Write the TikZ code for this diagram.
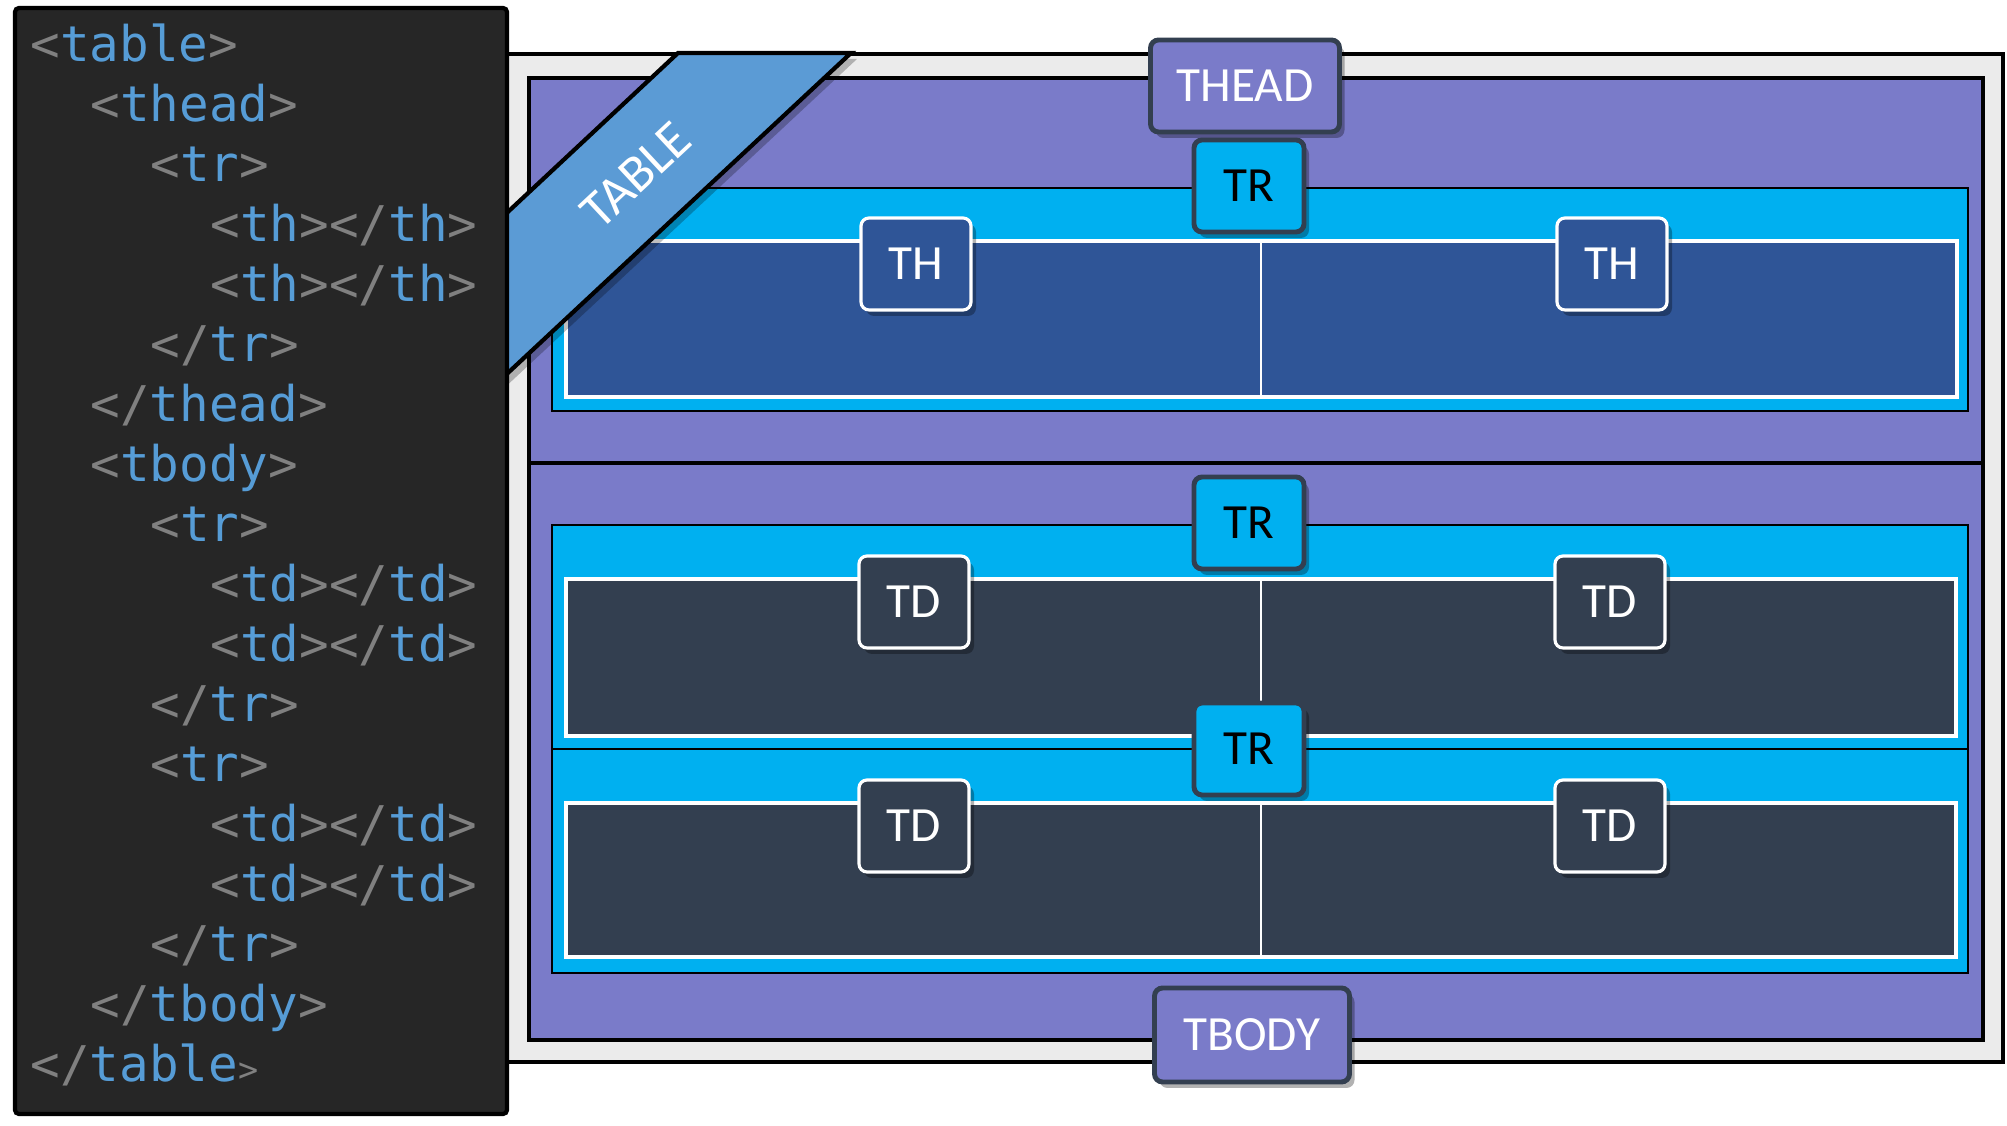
\documentclass[tikz,border=0pt]{standalone}
\usepackage{fontspec}
\setmainfont{Carlito}
\newfontfamily\codefont{DejaVu Sans Mono}
\usetikzlibrary{shadows,positioning}

\definecolor{codebg}{HTML}{262626}
\definecolor{tagname}{HTML}{569CD6}
\definecolor{tagbracket}{HTML}{808080}
\definecolor{outerbg}{HTML}{EBEBEB}
\definecolor{sectbg}{HTML}{7A7BC9}
\definecolor{rowbg}{HTML}{00B0F0}
\definecolor{headcell}{HTML}{2F5597}
\definecolor{bodycell}{HTML}{333F50}
\definecolor{ribbon}{HTML}{5B9BD5}
\definecolor{slate}{HTML}{333F50}

\newcommand{\otag}[1]{\textcolor{tagbracket}{<}\textcolor{tagname}{#1}\textcolor{tagbracket}{>}}
\newcommand{\ctag}[1]{\textcolor{tagbracket}{</}\textcolor{tagname}{#1}\textcolor{tagbracket}{>}}

\begin{document}
\begin{tikzpicture}[x=0.1mm,y=-0.1mm,node distance=6.96cm,
  frame/.style={draw=black,line width=1.2pt},
  row band/.style={draw=black,line width=0.8pt,fill=rowbg},
  cell box/.style={draw=white,line width=0.9pt},
  code line/.style={anchor=base west,inner sep=0pt,font=\codefont\fontsize{14}{17}\selectfont},
  tag node/.style={line width=1.4pt,rounded corners=0.8mm,minimum width=11mm,minimum height=9.2mm,
    inner sep=2pt,font=\fontsize{14}{16}\selectfont,
    drop shadow={shadow xshift=0.5mm,shadow yshift=-0.6mm,opacity=0.3,fill=black}},
  section tag/.style={tag node,draw=slate,fill=sectbg,text=white},
  row tag/.style={tag node,draw=slate,fill=rowbg,text=black},
  head tag/.style={tag node,draw=white,line width=0.9pt,fill=headcell,text=white},
  body tag/.style={tag node,draw=white,line width=0.9pt,fill=bodycell,text=white}]

 \useasboundingbox (0,0) rectangle (2007,1126);

 % table, thead, tbody
 \draw[frame,fill=outerbg] (507,54) rectangle (2003,1062);
 \draw[frame,fill=sectbg] (529,78) rectangle (1983,463);
 \draw[frame,fill=sectbg] (529,463) rectangle (1983,1040);

 % rows
 \draw[row band] (552,188) rectangle (1968,411);
 \draw[row band] (552,525) rectangle (1968,749);
 \draw[row band] (552,749) rectangle (1968,973);

 % cells
 \draw[cell box,fill=headcell] (566,241) rectangle (1957,397);
 \draw[cell box,fill=bodycell] (566,579) rectangle (1956,736);
 \draw[cell box,fill=bodycell] (566,803) rectangle (1956,957);
 \draw[white,line width=0.7pt] (1261,241) -- (1261,397);
 \draw[white,line width=0.7pt] (1261,579) -- (1261,736);
 \draw[white,line width=0.7pt] (1261,803) -- (1261,957);

 % ribbon
 \fill[black,opacity=0.25] (684,59) -- (857,59) -- (486,405) -- (486,244) -- cycle;
 \draw[frame,fill=ribbon,line join=miter] (678,53) -- (851,53) -- (480,399) -- (480,238) -- cycle;
 \node[rotate=43,text=white,font=\fontsize{15}{17}\selectfont] (ttl) at (636,175) {TABLE};

 % code panel
 \draw[frame,fill=codebg,rounded corners=0.4mm] (15,8) rectangle (507,1114);
 \node[code line] (c1) at (30,62) {\otag{table}};
 \node[code line] (c2) at (90,122) {\otag{thead}};
 \node[code line] (c3) at (150,182) {\otag{tr}};
 \node[code line] (c4) at (210,242) {\otag{th}\ctag{th}};
 \node[code line] (c5) at (210,302) {\otag{th}\ctag{th}};
 \node[code line] (c6) at (150,362) {\ctag{tr}};
 \node[code line] (c7) at (90,422) {\ctag{thead}};
 \node[code line] (c8) at (90,482) {\otag{tbody}};
 \node[code line] (c9) at (150,542) {\otag{tr}};
 \node[code line] (c10) at (210,602) {\otag{td}\ctag{td}};
 \node[code line] (c11) at (210,662) {\otag{td}\ctag{td}};
 \node[code line] (c12) at (150,722) {\ctag{tr}};
 \node[code line] (c13) at (150,782) {\otag{tr}};
 \node[code line] (c14) at (210,842) {\otag{td}\ctag{td}};
 \node[code line] (c15) at (210,902) {\otag{td}\ctag{td}};
 \node[code line] (c16) at (150,962) {\ctag{tr}};
 \node[code line] (c17) at (90,1022) {\ctag{tbody}};
 \node[code line] (c18) at (30,1082) {\textcolor{tagbracket}{</}\textcolor{tagname}{table}\textcolor{tagbracket}{\fontsize{9.5}{10}\selectfont >}};

 % labels
 \node[section tag,minimum width=18.9mm] (thead) at (1245,86) {THEAD};
 \node[row tag] (trh) at (1249,186) {TR};
 \node[head tag] (thl) at (916,264) {TH};
 \node[head tag] (thr) [right of=thl] {TH};
 \node[row tag] (tr1) at (1249,523) {TR};
 \node[row tag] (tr2) [below of=tr1,node distance=2.26cm] {TR};
 \node[body tag] (td1l) at (914,602) {TD};
 \node[body tag] (td1r) [right of=td1l] {TD};
 \node[body tag] (td2l) [below of=td1l,node distance=2.24cm] {TD};
 \node[body tag] (td2r) [right of=td2l] {TD};
 \node[section tag,minimum width=19.5mm,minimum height=9.4mm] (tbody) at (1252,1035) {TBODY};

\end{tikzpicture}
\end{document}
